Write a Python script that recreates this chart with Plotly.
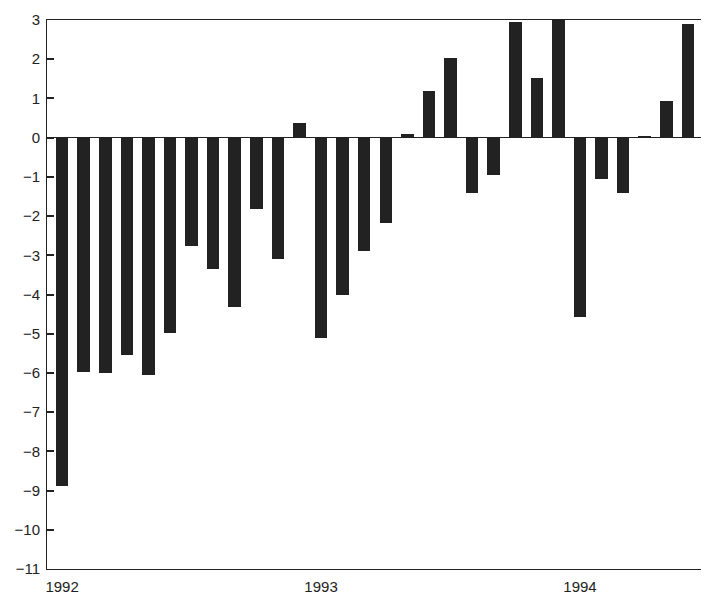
import plotly.graph_objects as go

months = list(range(30))
values = [-8.88, -5.97, -6.0, -5.55, -6.05, -4.98, -2.77, -3.34, -4.32, -1.82, -3.09, 0.37,
          -5.12, -4.0, -2.89, -2.18, 0.09, 1.18, 2.04, -1.40, -0.94, 2.95, 1.52, 3.0,
          -4.57, -1.05, -1.40, 0.05, 0.93, 2.9]
tick_pos = [0, 12, 24]
tick_labels = ["1992", "1993", "1994"]
y_ticks = list(range(-11, 4))

fig = go.Figure(go.Bar(x=months, y=values, marker=dict(color="#222222", line=dict(width=0)),
                       width=0.58))

fig.update_layout(
    width=701, height=598,
    margin=dict(l=39, r=6, t=12, b=37),
    paper_bgcolor="white", plot_bgcolor="white",
    font=dict(family="Liberation Sans, Arial, sans-serif", size=15, color="#222"),
    showlegend=False,
    bargap=0,
)
fig.update_xaxes(range=[-0.7, 29.7], tickvals=tick_pos, ticktext=tick_labels,
                 showgrid=False, zeroline=False, showline=True, linecolor="#222",
                 linewidth=1, mirror=True, ticks="", ticklen=0, automargin=False,
                 ticklabelstandoff=4)
fig.update_yaxes(range=[-11, 3], tickvals=y_ticks, showgrid=False,
                 zeroline=True, zerolinecolor="#222", zerolinewidth=1,
                 showline=True, linecolor="#222", linewidth=1, mirror=True,
                 ticks="inside", ticklen=7, tickcolor="#222", tickwidth=1.5,
                 automargin=False, ticklabelstandoff=3)

fig.write_html("out.html")
